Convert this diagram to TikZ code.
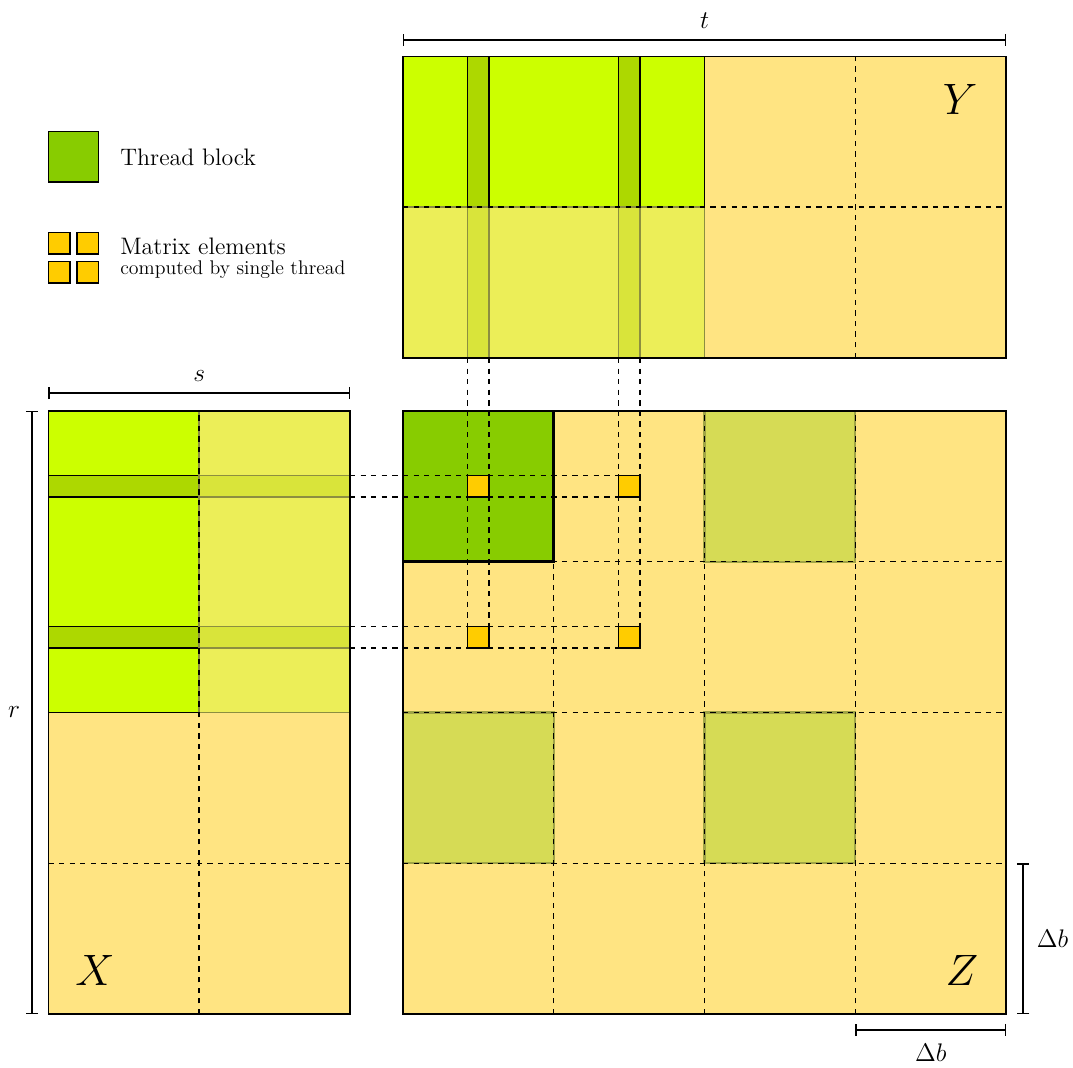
\documentclass[tikz,border=0pt]{standalone}
\usepackage{amsmath}
\usepackage{xcolor}
\usepackage{tikz}
\usetikzlibrary{arrows.meta,positioning,calc}

\definecolor{matyellow}{HTML}{FFE482}
\definecolor{brightgreen}{HTML}{CCFF00}
\definecolor{blockgreen}{HTML}{88CC00}
\definecolor{rowgreen}{HTML}{ADD800}
\definecolor{lightgreen}{HTML}{ECEE58}
\definecolor{lightrow}{HTML}{D9E43A}
\definecolor{lightedge}{HTML}{8C8E40}
\definecolor{shadeblock}{HTML}{D6DB55}
\definecolor{shadeedge}{HTML}{A0A445}
\definecolor{elemcolor}{HTML}{FFCC00}

\begin{document}
\begin{tikzpicture}[x=3cm, y=3cm,
    mat/.style={draw, line width=0.8pt},
    brightpart/.style={fill=brightgreen, draw, line width=0.8pt},
    lightpart/.style={fill=lightgreen, draw=lightedge, line width=0.8pt},
    brightrow/.style={fill=rowgreen, draw, line width=0.8pt},
    lightrowpart/.style={fill=lightrow, draw=lightedge, line width=0.8pt},
    shaded/.style={fill=shadeblock, draw=shadeedge, line width=1.2pt},
    grid/.style={dashed, line width=0.8pt},
    elem/.style={draw, line width=0.8pt, fill=elemcolor, minimum size=3cm/7, inner sep=0pt, outer sep=0pt},
    dimline/.style={{Bar[width=7pt]}-{Bar[width=7pt]}, line width=0.8pt},
    lbl/.style={font=\fontsize{13.5}{16}\selectfont},
    big/.style={font=\fontsize{25}{30}\selectfont}
]
    \useasboundingbox (-2.673,-0.352) rectangle (4.444,6.726);

    % Z
    \fill[matyellow] (0,0) rectangle (4,4);
    \draw[shaded] (2,3) rectangle (3,4);
    \draw[shaded] (0,1) rectangle (1,2);
    \draw[shaded] (2,1) rectangle (3,2);
    \fill[blockgreen] (0,3) rectangle (1,4);
    \foreach \i in {1,2,3} {
        \draw[grid] (\i,0) -- (\i,4);
        \draw[grid] (0,\i) -- (4,\i);
    }

    % Y
    \fill[matyellow] (0,4.352) rectangle (4,6.352);
    \draw[brightpart] (0,5.352) rectangle (2,6.352);
    \draw[lightpart] (0,4.352) rectangle (2,5.352);
    \foreach \c in {0,1} {
        \draw[brightrow] ({\c+3/7},5.352) rectangle ({\c+4/7},6.352);
        \draw[lightrowpart] ({\c+3/7},4.352) rectangle ({\c+4/7},5.352);
    }
    \draw[grid] (0,5.352) -- (4,5.352);
    \draw[grid] (3,4.352) -- (3,6.352);
    \draw[mat] (0,4.352) rectangle (4,6.352);

    % X
    \fill[matyellow] (-2.352,0) rectangle (-0.352,4);
    \draw[brightpart] (-2.352,2) rectangle (-1.352,4);
    \draw[lightpart] (-1.352,2) rectangle (-0.352,4);
    \foreach \r in {0,1} {
        \draw[brightrow] (-2.352,{4-\r-3/7}) rectangle (-1.352,{4-\r-4/7});
        \draw[lightrowpart] (-1.352,{4-\r-3/7}) rectangle (-0.352,{4-\r-4/7});
    }
    \draw[grid] (-1.352,0) -- (-1.352,4);
    \draw[grid] (-2.352,1) -- (-0.352,1);
    \draw[mat] (-2.352,0) rectangle (-0.352,4);

    % elements computed by one thread
    \node[elem] (e11) at ({3.5/7},{4-3.5/7}) {};
    \node[elem] (e12) at ({1+3.5/7},{4-3.5/7}) {};
    \node[elem] (e21) at ({3.5/7},{3-3.5/7}) {};
    \node[elem] (e22) at ({1+3.5/7},{3-3.5/7}) {};
    \coordinate (ybot) at (0,4.352);
    \coordinate (xright) at (-0.352,0);

    \foreach \e in {e21,e22} {
        \draw[grid] (\e.south west |- ybot) -- (\e.south west);
        \draw[grid] (\e.south east |- ybot) -- (\e.south east);
    }
    \foreach \e in {e12,e22} {
        \draw[grid] (\e.north east -| xright) -- (\e.north east);
        \draw[grid] (\e.south east -| xright) -- (\e.south east);
    }
    \foreach \e in {e11,e12,e21,e22}
        \draw[elem] (\e.south west) rectangle (\e.north east);

    \draw[mat] (0,0) rectangle (4,4);
    \draw[line width=1.6pt] (0,3) rectangle (1,4);

    % matrix names
    \node[big] (ylab) at (3.695,6.063) {$Y$};
    \node[big] (xlab) at (-2.043,0.292) {$X$};
    \node[big] (zlab) at (3.708,0.292) {$Z$};

    % dimensions
    \draw[dimline] (0,6.461) -- node[lbl, above=3pt] (tlab) {$t$} (4,6.461);
    \draw[dimline] (-2.352,4.119) -- node[lbl, above=3pt] (slab) {$s$} (-0.352,4.119);
    \draw[dimline] (-2.461,0) -- node[lbl, left=3pt] (rlab) {$r$} (-2.461,4);
    \draw[dimline] (4.113,0) -- node[lbl, right=4pt] (dblab) {$\Delta b$} (4.113,1);
    \draw[dimline] (3,-0.106) -- node[lbl, below=4pt] (dbhlab) {$\Delta b$} (4,-0.106);

    % legend
    \draw[line width=0.8pt, fill=blockgreen] (-2.352,5.519) rectangle (-2.019,5.852);
    \node[lbl, anchor=west, inner sep=0pt] (tbtext) at (-1.877,5.685) {Thread block};
    \foreach \x in {-2.352,-2.163}
        \foreach \y in {5.042,4.849}
            \draw[line width=0.8pt, fill=elemcolor] (\x,\y) rectangle ++(1/7,1/7);
    \node[lbl, anchor=west, inner sep=0pt] (metext) at (-1.877,5.09) {Matrix elements};
    \node[font=\fontsize{11.2}{13}\selectfont, anchor=west, inner sep=0pt] (cbtext) at (-1.877,4.935) {computed by single thread};
\end{tikzpicture}
\end{document}
